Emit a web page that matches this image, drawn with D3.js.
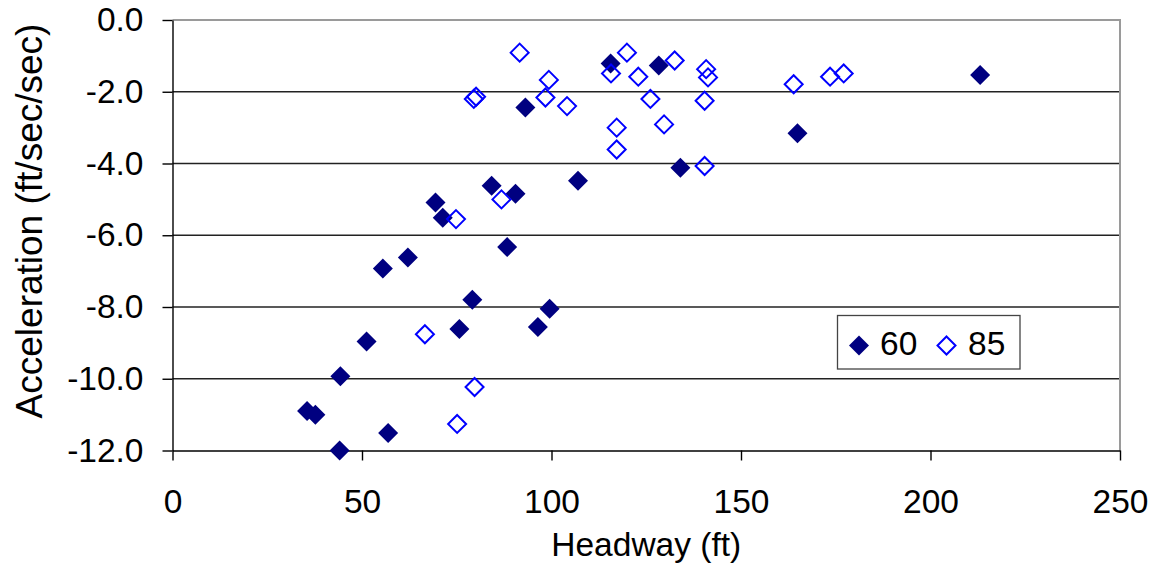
<!DOCTYPE html>
<html>
<head>
<meta charset="utf-8">
<script src="https://cdn.jsdelivr.net/npm/d3@7"></script>
<style>
  html, body { margin: 0; padding: 0; background: #fff; }
  svg { display: block; }
  text { font-family: "Liberation Sans", Arial, sans-serif; fill: #000; }
</style>
</head>
<body>
<svg id="chart" width="1159" height="575"></svg>
<script>
// ---- data ----
const seriesNames = ["60", "85"];
const headway60 = [115.6, 93.1, 128.3, 84.2, 90.5, 107.0, 69.4, 71.3, 213.1, 164.9, 134.0, 88.3,
                   55.5, 62.1, 79.1, 99.5, 75.7, 96.4, 51.2, 44.3, 35.5, 37.7, 56.9, 44.1];
const accel60   = [-1.21, -2.44, -1.27, -4.62, -4.84, -4.48, -5.09, -5.51, -1.53, -3.16, -4.12, -6.33,
                   -6.93, -6.62, -7.80, -8.05, -8.61, -8.56, -8.96, -9.93, -10.90, -11.00, -11.51, -12.00];
const headway85 = [91.6, 99.3, 98.4, 79.5, 80.1, 104.1, 115.7, 119.9, 122.9, 126.1, 117.2, 117.2, 86.8,
                   74.8, 132.5, 140.8, 141.3, 140.4, 129.7, 140.4, 163.9, 173.5, 177.1, 66.6, 79.7, 75.1];
const accel85   = [-0.91, -1.67, -2.16, -2.20, -2.14, -2.40, -1.49, -0.91, -1.58, -2.20, -3.00, -3.61, -5.00,
                   -5.55, -1.13, -1.37, -1.60, -2.25, -2.91, -4.07, -1.79, -1.58, -1.49, -8.76, -10.23, -11.26];
const xTicks = [0, 50, 100, 150, 200, 250];
const yTicks = [0, -2, -4, -6, -8, -10, -12];
const yTickLabels = ["0.0", "-2.0", "-4.0", "-6.0", "-8.0", "-10.0", "-12.0"];
const xTitle = "Headway (ft)";
const yTitle = "Acceleration (ft/sec/sec)";

// ---- layout ----
const svg = d3.select("#chart");
const L = 172.5, R = 1120, T = 20, B = 450.5;
const FS = 33.5;
const x = d3.scaleLinear().domain([0, 250]).range([L, R]);
const y = d3.scaleLinear().domain([-12, 0]).range([B, T]);

// gridlines
svg.append("g").selectAll("line").data(yTicks.filter(v => v !== 0 && v !== -12)).join("line")
  .attr("x1", L).attr("x2", R).attr("y1", d => y(d)).attr("y2", d => y(d))
  .attr("stroke", "#222").attr("stroke-width", 1.4);

// top and right border
svg.append("path")
  .attr("d", `M${L},${T}H${R}V${B}`)
  .attr("fill", "none").attr("stroke", "#9a9a9a").attr("stroke-width", 2);

// axes
const yAxis = d3.axisLeft(y).tickValues(yTicks)
  .tickFormat((d, i) => yTickLabels[i]).tickSize(10).tickSizeOuter(0).tickPadding(19);
const gy = svg.append("g").attr("transform", `translate(${L},0)`).call(yAxis);
const xAxis = d3.axisBottom(x).tickValues(xTicks).tickFormat(d3.format("d"))
  .tickSize(10).tickSizeOuter(0).tickPadding(28.5);
const gx = svg.append("g").attr("transform", `translate(0,${B})`).call(xAxis);
[gy, gx].forEach(g => {
  g.selectAll("path.domain").attr("stroke", "#000").attr("stroke-width", 1.4);
  g.selectAll(".tick line").attr("stroke", "#000").attr("stroke-width", 1.4);
  g.selectAll("text").attr("font-size", FS).attr("font-family", '"Liberation Sans", Arial, sans-serif').attr("fill", "#000");
});

// titles
svg.append("text").attr("x", (L + R) / 2).attr("y", 556).attr("text-anchor", "middle")
  .attr("font-size", FS).text(xTitle);
svg.append("text").attr("transform", `translate(42,221) rotate(-90)`).attr("text-anchor", "middle")
  .attr("font-size", 37).text(yTitle);

// markers
const diamond = r => `M0,${-r}L${r},0L0,${r}L${-r},0Z`;
const pts60 = headway60.map((h, i) => ({ h, a: accel60[i] }));
const pts85 = headway85.map((h, i) => ({ h, a: accel85[i] }));
svg.append("g").selectAll("path").data(pts60).join("path")
  .attr("transform", d => `translate(${x(d.h)},${y(d.a)})`)
  .attr("d", diamond(10)).attr("fill", "#000080");
svg.append("g").selectAll("path").data(pts85).join("path")
  .attr("transform", d => `translate(${x(d.h)},${y(d.a)})`)
  .attr("d", diamond(9)).attr("fill", "none").attr("stroke", "#0000ff").attr("stroke-width", 2);

// legend
const lg = svg.append("g");
lg.append("rect").attr("x", 837.5).attr("y", 315.5).attr("width", 182.5).attr("height", 53.5)
  .attr("fill", "#fff").attr("stroke", "#444").attr("stroke-width", 1.3);
lg.append("path").attr("transform", "translate(859,345.5)").attr("d", diamond(10)).attr("fill", "#000080");
lg.append("text").attr("x", 880).attr("y", 355).attr("font-size", FS).text(seriesNames[0]);
lg.append("path").attr("transform", "translate(946.5,345.5)").attr("d", diamond(9))
  .attr("fill", "none").attr("stroke", "#0000ff").attr("stroke-width", 2);
lg.append("text").attr("x", 968).attr("y", 355).attr("font-size", FS).text(seriesNames[1]);
</script>
</body>
</html>
